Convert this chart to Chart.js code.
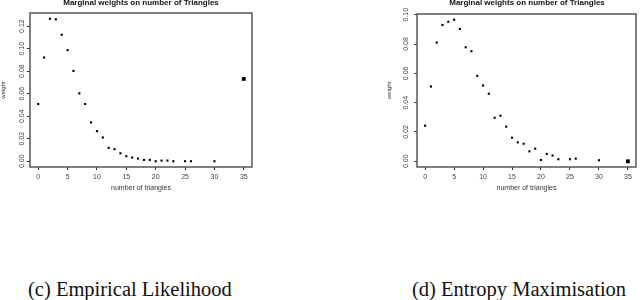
<!DOCTYPE html>
<html>
<head>
<meta charset="utf-8">
<script src="https://cdn.jsdelivr.net/npm/chart.js@4/dist/chart.umd.min.js"></script>
<style>
  html, body { margin: 0; padding: 0; background: #fff; }
  body { width: 640px; height: 300px; position: relative; overflow: hidden; }
  .box { position: absolute; top: 0; width: 320px; height: 200px; }
  .title { position: absolute; top: -2px; font: bold 8px "Liberation Sans", Arial, sans-serif; color: #111; white-space: nowrap; transform: translateX(-50%); }
  .cap { position: absolute; top: 278px; font: 20.5px "Liberation Serif", "DejaVu Serif", serif; color: #111; white-space: nowrap; }
</style>
</head>
<body>
<div class="box" style="left:0"><canvas id="c1" width="320" height="200"></canvas></div>
<div class="box" style="left:320px"><canvas id="c2" width="320" height="200"></canvas></div>
<div class="title" style="left:141px">Marginal weights on number of Triangles</div>
<div class="title" style="left:527px">Marginal weights on number of Triangles</div>
<div class="cap" style="left:28px">(c) Empirical Likelihood</div>
<div class="cap" style="left:412px">(d) Entropy Maximisation</div>
<script>
// number of triangles (x categories)
const triangles = [0,1,2,3,4,5,6,7,8,9,10,11,12,13,14,15,16,17,18,19,20,21,22,23,25,26,30,35];
// (c) Empirical Likelihood marginal weights
const empiricalWeights = [0.0508,0.0921,0.1265,0.1260,0.1123,0.0986,0.0802,0.0603,0.0508,0.0345,0.0267,0.0211,0.0119,0.0107,0.0071,0.0045,0.0033,0.0024,0.0012,0.0012,0.0000,0.0006,0.0006,0.0000,0.0000,0.0000,0.0000,0.0731];
// (d) Entropy Maximisation marginal weights
const entropyWeights = [0.0243,0.0510,0.0810,0.0930,0.0952,0.0966,0.0903,0.0778,0.0751,0.0583,0.0517,0.0461,0.0297,0.0311,0.0236,0.0161,0.0129,0.0120,0.0068,0.0086,0.0009,0.0050,0.0039,0.0014,0.0014,0.0018,0.0007,0.0000];
// tick labels
const xTicks = [0,5,10,15,20,25,30,35];
const yTicksLeft = [0.00,0.02,0.04,0.06,0.08,0.10,0.12];
const yTicksRight = [0.00,0.02,0.04,0.06,0.08,0.10];

const frame = {
  id: 'frame',
  afterDatasetsDraw(chart) {
    const a = chart.chartArea, ctx = chart.ctx;
    ctx.save();
    ctx.strokeStyle = '#555';
    ctx.lineWidth = 1.5;
    ctx.strokeRect(a.left, a.top, a.right - a.left, a.bottom - a.top);
    ctx.restore();
  }
};

function makeChart(id, ys, yTicks, cfg) {
  const pts = triangles.map((t, i) => ({x: t, y: ys[i]}));
  const tickFont = {family: '"Liberation Sans", Arial, sans-serif', size: 7};
  return new Chart(document.getElementById(id), {
    type: 'scatter',
    data: { datasets: [{
      data: pts,
      pointStyle: 'rect',
      backgroundColor: '#000',
      borderColor: '#000',
      borderWidth: 0,
      pointRadius: c => c.dataIndex === triangles.length - 1 ? 2.7 : 1.5
    }]},
    options: {
      responsive: false,
      animation: false,
      events: [],
      layout: { padding: { left: cfg.padLeft, right: cfg.padRight, top: cfg.top, bottom: 0 } },
      plugins: { legend: {display: false}, tooltip: {enabled: false}, title: {display: false} },
      scales: {
        x: {
          type: 'linear', min: -1.4, max: 36.4,
          afterBuildTicks: s => { s.ticks = xTicks.map(v => ({value: v})); },
          afterFit: s => { s.height = 200 - cfg.bottom; },
          grid: { display: true, drawOnChartArea: false, drawTicks: true, tickLength: 3, color: '#333', tickColor: '#333' },
          border: { display: false },
          ticks: { font: tickFont, color: '#444', padding: 3, maxRotation: 0, callback: v => String(v) },
          title: { display: true, text: 'number of triangles', font: tickFont, color: '#333', padding: {top: 0, bottom: 7.5} }
        },
        y: {
          type: 'linear', min: cfg.ymin, max: cfg.ymax,
          afterBuildTicks: s => { s.ticks = yTicks.map(v => ({value: v})); },
          afterFit: s => { s.width = cfg.axisW; },
          grid: { display: true, drawOnChartArea: false, drawTicks: true, tickLength: 3, color: '#333', tickColor: '#333' },
          border: { display: false },
          ticks: { font: tickFont, color: '#444', padding: cfg.tickPad, minRotation: 90, maxRotation: 90, crossAlign: 'center', callback: v => v.toFixed(2) },
          title: { display: true, text: 'weight', font: {family: '"Liberation Sans", Arial, sans-serif', size: 6}, color: '#333', padding: 0 }
        }
      }
    },
    plugins: [frame]
  });
}

makeChart('c1', empiricalWeights, yTicksLeft, {padLeft: 0, padRight: 68, top: 13, bottom: 167, axisW: 30, tickPad: -1.8, ymin: -0.0051, ymax: 0.1316});
makeChart('c2', entropyWeights, yTicksRight, {padLeft: 66, padRight: 2, top: 14, bottom: 167, axisW: 31, tickPad: 1.2, ymin: -0.0039, ymax: 0.1005});
</script>
</body>
</html>
